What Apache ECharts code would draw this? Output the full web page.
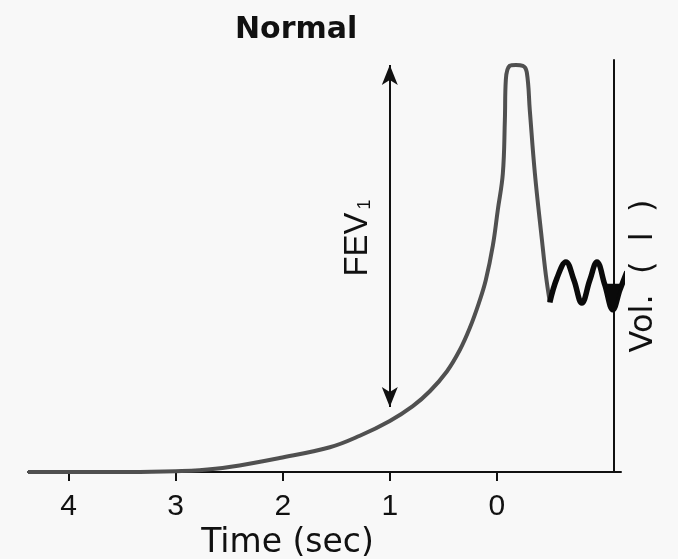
<!DOCTYPE html>
<html>
<head>
<meta charset="utf-8">
<script src="https://cdn.jsdelivr.net/npm/echarts@6/dist/echarts.min.js"></script>
<style>
  html, body { margin: 0; padding: 0; background: #f8f8f8; }
  #chart { width: 678px; height: 559px; }
</style>
</head>
<body>
<div id="chart"></div>
<script>
// Forced expiration trace (time in seconds, axis runs right-to-left; volume in litres)
const curveTimes   = [4.38, 4.00, 3.52, 3.00, 2.78, 2.50, 2.03, 1.56, 1.28, 1.00, 0.785, 0.626, 0.467, 0.346, 0.252, 0.168, 0.103, 0.037, -0.009, -0.056, -0.075, -0.084, -0.121, -0.178, -0.243, -0.280, -0.308, -0.355, -0.421, -0.458, -0.495];
const curveVolumes = [0, 0, 0, 0.01, 0.02, 0.06, 0.17, 0.30, 0.44, 0.62, 0.80, 0.98, 1.22, 1.48, 1.75, 2.05, 2.33, 2.75, 3.18, 3.62, 4.27, 4.76, 4.93, 4.94, 4.93, 4.85, 4.39, 3.63, 2.82, 2.39, 2.06];

// Tidal breathing wiggle after the manoeuvre
const tidalTimes   = [-0.495, -0.561, -0.645, -0.720, -0.794, -0.869, -0.935, -1.009, -1.084, -1.150, -1.215];
const tidalVolumes = [2.06, 2.35, 2.55, 2.33, 2.05, 2.33, 2.55, 2.27, 1.97, 2.21, 2.43];
const tidalArrow   = [-1.084, 1.97];

// FEV1 double arrow (at t = 1 s)
const fev1Time  = 1;
const fev1Range = [4.94, 0.79];

// Axis ticks
const timeTicks = [0, 1, 2, 3, 4];
const timeRange = [-1.16, 4.38];
const volRange  = [0, 5];

const curveData = curveTimes.map((t, i) => [t, curveVolumes[i]]);
const tidalData = tidalTimes.map((t, i) => [t, tidalVolumes[i]]);

const chart = echarts.init(document.getElementById('chart'));
chart.setOption({
  backgroundColor: '#f8f8f8',
  animation: false,
  title: {
    text: 'Normal',
    left: 235,
    top: 15,
    padding: 0,
    textStyle: { fontFamily: 'DejaVu Sans', fontWeight: 'bold', fontSize: 30, color: '#111' }
  },
  grid: { left: 28, right: 57, top: 60, bottom: 87, containLabel: false, outerBoundsMode: 'none' },
  xAxis: {
    type: 'value',
    inverse: true,
    min: timeRange[0],
    max: timeRange[1],
    axisLine: { onZero: false, lineStyle: { color: '#111', width: 2 } },
    axisTick: { customValues: timeTicks, length: 9, lineStyle: { color: '#111', width: 2 } },
    axisLabel: { customValues: timeTicks, fontSize: 30, margin: 20, color: '#111', fontFamily: 'Liberation Sans' },
    splitLine: { show: false },
    name: 'Time (sec)',
    nameLocation: 'middle',
    nameGap: 45,
    nameTextStyle: { fontSize: 33, fontFamily: 'DejaVu Sans', color: '#111', padding: [0, 74, 0, 0] }
  },
  yAxis: {
    type: 'value',
    position: 'right',
    offset: -7,
    min: volRange[0],
    max: volRange[1],
    axisLine: { show: true, onZero: false, lineStyle: { color: '#111', width: 2 } },
    axisTick: { show: false },
    axisLabel: { show: false },
    splitLine: { show: false },
    name: 'Vol.  (  l  )',
    nameLocation: 'middle',
    nameRotate: 90,
    nameGap: 14,
    nameTextStyle: { fontSize: 32, fontFamily: 'DejaVu Sans', color: '#111', padding: [0, 20, 0, 0] }
  },
  graphic: [{
    type: 'text',
    x: 358,
    y: 238,
    rotation: Math.PI / 2,
    style: {
      text: '{a|FEV}{b|1}',
      align: 'center',
      verticalAlign: 'middle',
      rich: {
        a: { fontSize: 33, fontFamily: 'Liberation Sans', fill: '#111', color: '#111' },
        b: { fontSize: 18, fontFamily: 'Liberation Sans', fill: '#111', color: '#111', verticalAlign: 'bottom', padding: [0, 0, 0, 3] }
      }
    }
  }],
  series: [
    {
      type: 'line',
      data: curveData,
      showSymbol: false,
      smooth: 0.4,
      clip: false,
      z: 2,
      lineStyle: { color: '#505050', width: 4 },
      markLine: {
        silent: true,
        symbol: ['arrow', 'arrow'],
        symbolSize: [12, 20],
        label: { show: false },
        lineStyle: { color: '#111', width: 2, type: 'solid' },
        data: [[{ coord: [fev1Time, fev1Range[0]] }, { coord: [fev1Time, fev1Range[1]] }]]
      }
    },
    {
      type: 'line',
      data: tidalData,
      showSymbol: false,
      smooth: 0.4,
      clip: false,
      z: 3,
      lineStyle: { color: '#0a0a0a', width: 5.5 },
      markPoint: {
        silent: true,
        symbol: 'triangle',
        symbolRotate: 180,
        symbolSize: [16, 28],
        symbolOffset: [0, -12],
        itemStyle: { color: '#0a0a0a' },
        label: { show: false },
        data: [{ coord: tidalArrow }]
      }
    }
  ]
});
</script>
</body>
</html>
